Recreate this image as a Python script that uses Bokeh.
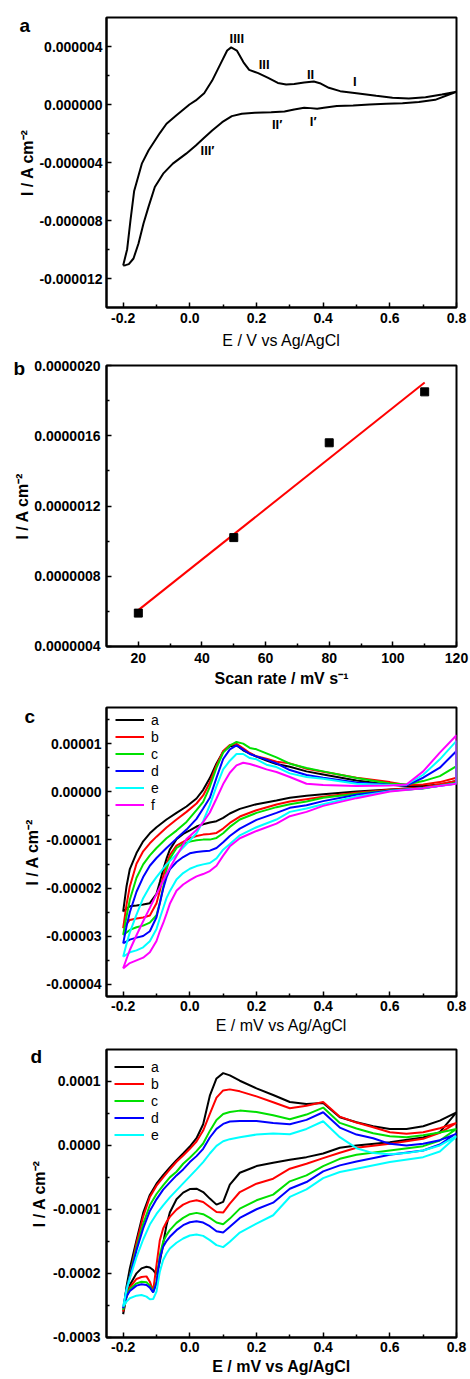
import numpy as np
from bokeh.plotting import figure
from bokeh.layouts import column
from bokeh.models import FixedTicker, PrintfTickFormatter, Legend, LegendItem, Title
from bokeh.embed import file_html
from bokeh.resources import INLINE
from bokeh.core.properties import value

FONT = "Liberation Sans"

# ---------------- panel a : single CV (units 1e-6 A cm^-2) ----------------
A_UNIT = 1e-6
a_fwd_E = [-0.200, -0.188, -0.178, -0.167, -0.144, -0.124, -0.090, -0.070, -0.041, -0.001, 0.018, 0.043,
           0.067, 0.092, 0.112, 0.124, 0.141, 0.161, 0.178, 0.205, 0.235, 0.264, 0.289, 0.313, 0.343,
           0.372, 0.390, 0.417, 0.451, 0.500, 0.559, 0.608, 0.657, 0.707, 0.756, 0.800]
a_fwd_I = [-11.10, -9.98, -7.98, -5.96, -4.08, -3.17, -1.97, -1.33, -0.76, 0.00, 0.28, 0.78,
           1.65, 2.80, 3.72, 3.94, 3.72, 2.91, 2.39, 2.16, 1.83, 1.49, 1.38, 1.42, 1.51,
           1.58, 1.47, 1.15, 0.92, 0.78, 0.60, 0.46, 0.41, 0.50, 0.69, 0.88]
a_rev_E = [0.800, 0.736, 0.687, 0.638, 0.589, 0.539, 0.490, 0.441, 0.402, 0.382, 0.362, 0.343, 0.313,
           0.284, 0.244, 0.195, 0.156, 0.126, 0.097, 0.067, 0.043, 0.018, -0.011, -0.051, -0.080,
           -0.105, -0.124, -0.139, -0.154, -0.169, -0.183, -0.193, -0.200]
a_rev_I = [0.88, 0.32, 0.18, 0.09, 0.05, 0.00, -0.07, -0.11, -0.23, -0.30, -0.25, -0.23, -0.34,
           -0.48, -0.53, -0.57, -0.64, -0.80, -1.22, -1.79, -2.29, -2.82, -3.39, -4.08, -4.77,
           -5.69, -7.06, -8.21, -9.59, -10.62, -11.01, -11.08, -11.10]
a_peak_text = ["IIII", "III", "II", "I", "II\u2032", "I\u2032", "III\u2032"]
a_peak_E = [0.141, 0.223, 0.362, 0.495, 0.262, 0.370, 0.053]
a_peak_I = [4.52, 2.73, 2.06, 1.58, -1.38, -1.15, -3.17]

# ---------------- panel b : peak current vs scan rate ----------------
b_rate = [20, 50, 80, 110]
b_I = [0.59e-6, 1.02e-6, 1.56e-6, 1.85e-6]

# ---------------- panel c : six CVs (units 1e-5 A cm^-2) ----------------
C_UNIT = 1e-5
c_labels = ["a", "b", "c", "d", "e", "f"]
c_fwd_E = [-0.2, -0.19, -0.18, -0.16, -0.14, -0.12, -0.1, -0.07, -0.04, -0.01, 0.02, 0.04, 0.06, 0.08,
           0.1, 0.12, 0.14, 0.16, 0.18, 0.2, 0.23, 0.26, 0.3, 0.35, 0.4, 0.5, 0.6, 0.65, 0.7, 0.75, 0.8]
c_fwd_a = [-2.486, -1.965, -1.604, -1.271, -1.028, -0.861, -0.736, -0.576, -0.438, -0.306, -0.139, 0.042,
           0.285, 0.590, 0.833, 0.944, 0.965, 0.861, 0.792, 0.729, 0.646, 0.576, 0.521, 0.424, 0.361,
           0.236, 0.146, 0.118, 0.118, 0.153, 0.222]
c_fwd_b = [-2.833, -2.347, -1.965, -1.493, -1.236, -1.069, -0.931, -0.743, -0.576, -0.417, -0.243, -0.076,
           0.194, 0.549, 0.847, 0.972, 0.993, 0.903, 0.806, 0.736, 0.688, 0.625, 0.590, 0.479, 0.417,
           0.292, 0.201, 0.139, 0.153, 0.201, 0.292]
c_fwd_c = [-2.972, -2.590, -2.243, -1.785, -1.507, -1.319, -1.167, -0.965, -0.806, -0.625, -0.382, -0.208,
           0.104, 0.500, 0.813, 0.958, 1.035, 1.000, 0.910, 0.882, 0.799, 0.715, 0.583, 0.493, 0.424,
           0.285, 0.174, 0.153, 0.222, 0.326, 0.535]
c_fwd_d = [-3.146, -2.799, -2.500, -2.076, -1.771, -1.535, -1.375, -1.167, -0.972, -0.785, -0.563, -0.347,
           -0.125, 0.292, 0.681, 0.882, 0.965, 0.875, 0.785, 0.736, 0.667, 0.590, 0.451, 0.347, 0.292,
           0.194, 0.146, 0.132, 0.292, 0.500, 0.847]
c_fwd_e = [-3.424, -3.160, -2.917, -2.549, -2.208, -1.965, -1.771, -1.507, -1.299, -1.083, -0.861, -0.611,
           -0.278, 0.118, 0.465, 0.646, 0.785, 0.785, 0.701, 0.674, 0.563, 0.514, 0.382, 0.306, 0.271,
           0.167, 0.139, 0.146, 0.354, 0.674, 1.056]
c_fwd_f = [-3.667, -3.472, -3.285, -2.979, -2.688, -2.410, -2.125, -1.708, -1.333, -0.979, -0.792, -0.632,
           -0.431, -0.139, 0.160, 0.396, 0.549, 0.604, 0.576, 0.535, 0.465, 0.410, 0.306, 0.167, 0.139,
           0.118, 0.132, 0.153, 0.424, 0.813, 1.174]
c_rev_E = [-0.2, -0.18, -0.16, -0.14, -0.12, -0.1, -0.09, -0.08, -0.07, -0.06, -0.04, -0.02, 0.0, 0.02,
           0.04, 0.06, 0.08, 0.1, 0.12, 0.15, 0.2, 0.26, 0.3, 0.35, 0.4, 0.5, 0.6, 0.7, 0.8]
c_rev_a = [-2.486, -2.375, -2.361, -2.340, -2.313, -2.118, -1.875, -1.618, -1.389, -1.201, -0.986, -0.875,
           -0.799, -0.722, -0.674, -0.639, -0.611, -0.542, -0.451, -0.354, -0.257, -0.181, -0.125, -0.083,
           -0.049, 0.007, 0.049, 0.090, 0.201]
c_rev_b = [-2.833, -2.660, -2.632, -2.611, -2.569, -2.313, -2.056, -1.757, -1.500, -1.313, -1.118, -1.042,
           -0.965, -0.917, -0.889, -0.875, -0.854, -0.764, -0.646, -0.514, -0.382, -0.264, -0.201, -0.153,
           -0.104, -0.021, 0.042, 0.090, 0.222]
c_rev_c = [-2.972, -2.868, -2.813, -2.778, -2.715, -2.563, -2.306, -1.986, -1.618, -1.389, -1.167, -1.083,
           -1.035, -1.007, -0.993, -0.993, -0.958, -0.861, -0.729, -0.576, -0.438, -0.319, -0.257, -0.201,
           -0.125, -0.042, 0.028, 0.069, 0.188]
c_rev_d = [-3.146, -3.069, -3.028, -2.993, -2.896, -2.604, -2.313, -2.014, -1.778, -1.611, -1.458, -1.354,
           -1.278, -1.250, -1.236, -1.222, -1.167, -1.049, -0.917, -0.764, -0.583, -0.438, -0.333, -0.278,
           -0.194, -0.063, 0.021, 0.076, 0.174]
c_rev_e = [-3.424, -3.333, -3.292, -3.229, -3.104, -2.847, -2.625, -2.417, -2.208, -2.063, -1.819, -1.688,
           -1.597, -1.542, -1.507, -1.479, -1.382, -1.201, -1.083, -0.903, -0.736, -0.576, -0.417, -0.347,
           -0.257, -0.097, 0.014, 0.076, 0.174]
c_rev_f = [-3.667, -3.556, -3.500, -3.444, -3.333, -3.097, -2.896, -2.729, -2.535, -2.326, -2.056, -1.924,
           -1.833, -1.757, -1.708, -1.646, -1.535, -1.326, -1.132, -0.965, -0.813, -0.660, -0.507, -0.417,
           -0.292, -0.132, 0.007, 0.076, 0.167]

# ---------------- panel d : five CVs (units 1e-4 A cm^-2) ----------------
D_UNIT = 1e-4
d_labels = ["a", "b", "c", "d", "e"]
d_fwd_E = [-0.2, -0.19, -0.18, -0.16, -0.14, -0.12, -0.1, -0.08, -0.06, -0.04, -0.02, 0.0, 0.02, 0.04,
           0.06, 0.08, 0.1, 0.12, 0.15, 0.2, 0.25, 0.3, 0.35, 0.4, 0.45, 0.5, 0.55, 0.6, 0.65, 0.7, 0.75, 0.8]
d_fwd_a = [-2.636, -2.206, -1.920, -1.479, -1.053, -0.773, -0.597, -0.462, -0.342, -0.228, -0.125, -0.016,
           0.114, 0.332, 0.778, 1.048, 1.131, 1.095, 1.012, 0.893, 0.789, 0.680, 0.649, 0.664, 0.441,
           0.363, 0.301, 0.259, 0.259, 0.301, 0.389, 0.519]
d_fwd_b = [-2.595, -2.273, -2.045, -1.526, -1.111, -0.804, -0.628, -0.498, -0.374, -0.254, -0.156, -0.052,
           0.062, 0.234, 0.493, 0.747, 0.861, 0.877, 0.846, 0.768, 0.675, 0.581, 0.620, 0.680, 0.451,
           0.358, 0.285, 0.208, 0.182, 0.208, 0.270, 0.353]
d_fwd_c = [-2.569, -2.231, -2.039, -1.593, -1.225, -0.934, -0.758, -0.623, -0.498, -0.410, -0.285, -0.192,
           -0.088, 0.031, 0.228, 0.400, 0.493, 0.524, 0.545, 0.524, 0.472, 0.410, 0.483, 0.592, 0.353,
           0.265, 0.192, 0.145, 0.130, 0.161, 0.202, 0.259]
d_fwd_d = [-2.543, -2.242, -2.050, -1.635, -1.297, -1.022, -0.841, -0.690, -0.576, -0.467, -0.374, -0.259,
           -0.166, -0.052, 0.125, 0.259, 0.337, 0.374, 0.384, 0.384, 0.353, 0.332, 0.400, 0.519, 0.280,
           0.171, 0.114, 0.026, 0.000, 0.026, 0.083, 0.182]
d_fwd_e = [-2.517, -2.257, -2.076, -1.744, -1.469, -1.235, -1.069, -0.934, -0.810, -0.701, -0.592, -0.483,
           -0.374, -0.259, -0.125, -0.005, 0.067, 0.099, 0.130, 0.171, 0.187, 0.176, 0.259, 0.379, 0.130,
           -0.042, -0.119, -0.135, -0.119, -0.078, 0.000, 0.145]
d_rev_E = [-0.2, -0.19, -0.18, -0.16, -0.145, -0.13, -0.12, -0.11, -0.1, -0.09, -0.08, -0.07, -0.06, -0.04,
           -0.02, 0.0, 0.02, 0.04, 0.06, 0.08, 0.1, 0.12, 0.15, 0.2, 0.25, 0.3, 0.35, 0.4, 0.45, 0.5, 0.6,
           0.7, 0.75, 0.8]
d_rev_a = [-2.636, -2.361, -2.179, -1.998, -1.920, -1.894, -1.905, -1.946, -2.013, -1.816, -1.531, -1.245,
           -1.048, -0.841, -0.737, -0.680, -0.675, -0.727, -0.830, -0.924, -0.882, -0.612, -0.426, -0.322,
           -0.270, -0.223, -0.182, -0.125, -0.036, 0.000, 0.052, 0.125, 0.208, 0.519]
d_rev_b = [-2.595, -2.361, -2.216, -2.086, -2.055, -2.045, -2.128, -2.273, -1.868, -1.479, -1.297, -1.194,
           -1.116, -1.002, -0.924, -0.877, -0.856, -0.882, -0.960, -1.038, -1.048, -0.908, -0.727, -0.597,
           -0.519, -0.363, -0.285, -0.197, -0.114, -0.036, 0.026, 0.104, 0.197, 0.353]
d_rev_c = [-2.569, -2.361, -2.242, -2.154, -2.128, -2.138, -2.190, -2.294, -2.128, -1.712, -1.505, -1.401,
           -1.323, -1.209, -1.131, -1.074, -1.053, -1.074, -1.131, -1.204, -1.230, -1.142, -0.986, -0.856,
           -0.768, -0.560, -0.467, -0.322, -0.208, -0.145, -0.078, -0.010, 0.078, 0.259]
d_rev_d = [-2.543, -2.361, -2.273, -2.190, -2.169, -2.180, -2.221, -2.294, -2.154, -1.764, -1.583, -1.494,
           -1.427, -1.323, -1.245, -1.199, -1.183, -1.204, -1.261, -1.339, -1.360, -1.271, -1.131, -0.996,
           -0.893, -0.675, -0.571, -0.405, -0.311, -0.249, -0.145, -0.078, 0.016, 0.192]
d_rev_e = [-2.517, -2.439, -2.387, -2.346, -2.335, -2.361, -2.403, -2.398, -2.283, -1.972, -1.790, -1.687,
           -1.609, -1.520, -1.453, -1.406, -1.391, -1.412, -1.479, -1.557, -1.588, -1.505, -1.360, -1.220,
           -1.090, -0.804, -0.685, -0.509, -0.415, -0.363, -0.259, -0.182, -0.093, 0.140]

# ---------------- ticks ----------------
E_ticks = [-0.2, 0.0, 0.2, 0.4, 0.6, 0.8]
E_minor = [-0.1, 0.1, 0.3, 0.5, 0.7]
a_yticks = [-12e-6, -8e-6, -4e-6, 0.0, 4e-6]
a_yminor = [-10e-6, -6e-6, -2e-6, 2e-6]
b_xticks = [20, 40, 60, 80, 100, 120]
b_xminor = [30, 50, 70, 90, 110]
b_yticks = [0.4e-6, 0.8e-6, 1.2e-6, 1.6e-6, 2.0e-6]
b_yminor = [0.6e-6, 1.0e-6, 1.4e-6, 1.8e-6]
c_yticks = [-4e-5, -3e-5, -2e-5, -1e-5, 0.0, 1e-5]
c_yminor = [-3.5e-5, -2.5e-5, -1.5e-5, -0.5e-5, 0.5e-5, 1.5e-5]
d_yticks = [-3e-4, -2e-4, -1e-4, 0.0, 1e-4]
d_yminor = [-2.5e-4, -1.5e-4, -0.5e-4, 0.5e-4]

c_colors = ["#000000", "#ff0000", "#00e000", "#0000ff", "#00ffff", "#ff00ff"]
d_colors = ["#000000", "#ff0000", "#00e000", "#0000ff", "#00ffff"]

YLABEL = "I / A cm\u207b\u00b2"
W = 470


def base_fig(h, xr, yr, left, right, top, bottom):
    p = figure(width=W, height=h, x_range=xr, y_range=yr, toolbar_location=None,
               output_backend="svg", min_border_left=left, min_border_right=right,
               min_border_top=top, min_border_bottom=bottom)
    p.xgrid.visible = False
    p.ygrid.visible = False
    p.outline_line_color = "black"
    p.outline_line_width = 2
    p.outline_line_alpha = 1
    p.background_fill_color = "white"
    p.border_fill_color = "white"
    return p


def style_axis(ax, ticks, minor, fmt, label, label_bold, tick_standoff, label_standoff):
    ax.ticker = FixedTicker(ticks=ticks, minor_ticks=minor)
    ax.formatter = PrintfTickFormatter(format=fmt)
    ax.axis_label = label
    ax.axis_label_text_font = FONT
    ax.axis_label_text_font_size = "16px"
    ax.axis_label_text_font_style = "bold" if label_bold else "normal"
    ax.axis_label_text_color = "black"
    ax.major_label_text_font = FONT
    ax.major_label_text_font_size = "14px"
    ax.major_label_text_font_style = "bold"
    ax.major_label_text_color = "black"
    ax.major_tick_in = 5
    ax.major_tick_out = 0
    ax.minor_tick_in = 3
    ax.minor_tick_out = 0
    ax.axis_line_width = 2
    ax.axis_line_color = "black"
    ax.major_tick_line_width = 1.5
    ax.minor_tick_line_width = 1.5
    ax.major_tick_line_color = "black"
    ax.minor_tick_line_color = "black"
    ax.major_label_standoff = tick_standoff
    ax.axis_label_standoff = label_standoff


def letter_title(p, txt, offset, standoff):
    p.add_layout(Title(text=txt, align="left", offset=offset, standoff=standoff,
                       vertical_align="bottom", text_font=FONT, text_font_size="19px",
                       text_font_style="bold", text_color="black"), "above")


# ================= panel a =================
pa = base_fig(352, (-0.25, 0.8), (-14e-6, 6e-6), 103, 11, 17, 45)
style_axis(pa.xaxis[0], E_ticks, E_minor, "%.1f", "E / V vs Ag/AgCl", False, 5, 6)
style_axis(pa.yaxis[0], a_yticks, a_yminor, "%.6f", YLABEL, True, 4, 0)
ax = list(a_fwd_E) + list(a_rev_E)
ay = [v * A_UNIT for v in a_fwd_I] + [v * A_UNIT for v in a_rev_I]
pa.line(ax, ay, line_color="black", line_width=2)
pa.text(x=a_peak_E, y=[v * A_UNIT for v in a_peak_I], text=a_peak_text,
        text_font=value(FONT), text_font_size="13px", text_font_style="bold",
        text_align="center", text_baseline="middle", text_color="black")
letter_title(pa, "a", -87, -36)

# ================= panel b =================
pb = base_fig(338, (10, 120), (0.3999e-6, 2.0001e-6), 106, 12, 13, 44)
style_axis(pb.xaxis[0], b_xticks, b_xminor, "%d", "Scan rate / mV s\u207b\u00b9", True, 6, 4)
style_axis(pb.yaxis[0], b_yticks, b_yminor, "%.7f", YLABEL, True, 6, 0)
slope, intercept = np.polyfit(b_rate, b_I, 1)
fit_x = [min(b_rate), max(b_rate)]
fit_y = [slope * v + intercept for v in fit_x]
pb.line(fit_x, fit_y, line_color="#ff0000", line_width=2)
pb.scatter(b_rate, b_I, marker="square", size=8, fill_color="black", line_color="black")
letter_title(pb, "b", -93, -27)

# ================= panel c =================
pc = base_fig(347, (-0.25, 0.8), (-4.25e-5, 1.75e-5), 98, 14, 17, 41)
style_axis(pc.xaxis[0], E_ticks, E_minor, "%.1f", "E / mV vs Ag/AgCl", False, 4, 3)
style_axis(pc.yaxis[0], c_yticks, c_yminor, "%.5f", YLABEL, True, 5, 2)
c_fwd = [c_fwd_a, c_fwd_b, c_fwd_c, c_fwd_d, c_fwd_e, c_fwd_f]
c_rev = [c_rev_a, c_rev_b, c_rev_c, c_rev_d, c_rev_e, c_rev_f]
c_items = []
for lab, col, fI, rI in zip(c_labels, c_colors, c_fwd, c_rev):
    xs = list(c_fwd_E) + list(c_rev_E)[::-1]
    ys = [v * C_UNIT for v in fI] + [v * C_UNIT for v in rI][::-1]
    r = pc.line(xs, ys, line_color=col, line_width=2)
    c_items.append(LegendItem(label=lab, renderers=[r]))
leg_c = Legend(items=c_items, location=(9, 183), glyph_width=29, glyph_height=17, label_height=17,
               label_width=10, spacing=0, padding=0, margin=0, label_standoff=7,
               border_line_alpha=0, background_fill_alpha=0,
               label_text_font=FONT, label_text_font_size="14px", label_text_color="black")
pc.add_layout(leg_c)
letter_title(pc, "c", -82, -39)

# ================= panel d =================
pd = base_fig(341, (-0.25, 0.8), (-3.0001e-4, 1.5e-4), 92, 10, 12, 41)
style_axis(pd.xaxis[0], E_ticks, E_minor, "%.1f", "E / mV vs Ag/AgCl", True, 4, 3)
style_axis(pd.yaxis[0], d_yticks, d_yminor, "%.4f", YLABEL, True, 6, 2)
d_fwd = [d_fwd_a, d_fwd_b, d_fwd_c, d_fwd_d, d_fwd_e]
d_rev = [d_rev_a, d_rev_b, d_rev_c, d_rev_d, d_rev_e]
d_items = []
for lab, col, fI, rI in zip(d_labels, d_colors, d_fwd, d_rev):
    xs = list(d_fwd_E) + list(d_rev_E)[::-1]
    ys = [v * D_UNIT for v in fI] + [v * D_UNIT for v in rI][::-1]
    r = pd.line(xs, ys, line_color=col, line_width=2)
    d_items.append(LegendItem(label=lab, renderers=[r]))
leg_d = Legend(items=d_items, location=(8, 194), glyph_width=30, glyph_height=17, label_height=17,
               label_width=10, spacing=0, padding=0, margin=0, label_standoff=7,
               border_line_alpha=0, background_fill_alpha=0,
               label_text_font=FONT, label_text_font_size="14px", label_text_color="black")
pd.add_layout(leg_d)
letter_title(pd, "d", -76, -35)

layout = column(pa, pb, pc, pd, spacing=0)
open("out.html", "w").write(file_html(layout, INLINE))
